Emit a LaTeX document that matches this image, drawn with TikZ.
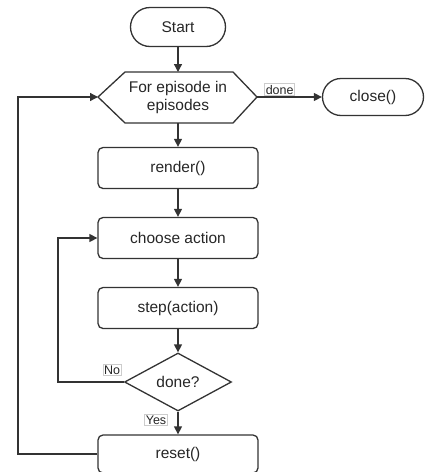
\documentclass[tikz,border=0pt]{standalone}
\usepackage{fontspec}
\setmainfont{Liberation Sans}
\usetikzlibrary{shapes.geometric,shapes.misc,arrows.meta}
\begin{document}
\begin{tikzpicture}[x=1pt,y=-1pt,
  every node/.style={font=\fontsize{15.5}{18}\selectfont, text=black!85},
  line/.style={draw=black!80, line width=1.3pt},
  arr/.style={line, -{Triangle[length=8pt,width=8pt]}},
  pill/.style={line, rounded rectangle, minimum width=95pt, minimum height=39pt, inner sep=0pt},
  box/.style={line, rectangle, rounded corners=5pt, minimum width=160pt, minimum height=41pt, inner sep=0pt},
  hexa/.style={line, chamfered rectangle, chamfered rectangle xsep=27pt, chamfered rectangle ysep=26pt, minimum width=108pt, minimum height=52pt, inner sep=0pt, align=center},
  dia/.style={line, diamond, aspect=1.85, minimum width=107pt, minimum height=58pt, inner sep=0pt},
  lbl/.style={draw=black!20, fill=white, font=\fontsize{12.5}{14}\selectfont, inner sep=1.2pt}
]
\useasboundingbox (0,0) rectangle (427,472);
\node[pill] (start) at (178,27) {Start};
\node[line, draw=none, align=center, font=\fontsize{15.5}{18}\selectfont] (hext) at (178,97) {For episode in\\episodes};
\draw[line] (98,97) -- (125,72) -- (233,72) -- (257,97) -- (233,123) -- (125,123) -- cycle;
\coordinate (hl) at (98,97);
\coordinate (hr) at (257,97);
\coordinate (hb) at (178,123);
\coordinate (ht) at (178,72);
\node[pill, minimum width=101pt, minimum height=37pt] (close) at (373,97) {close()};
\node[box] (render) at (178,168) {render()};
\node[box] (choose) at (178,238) {choose action};
\node[box] (step) at (178,308) {step(action)};
\node[dia] (done) at (178,382) {done?};
\node[box, minimum height=38pt] (reset) at (178,454) {reset()};

\draw[arr] (start) -- (ht);
\draw[arr] (hr) -- node[lbl, above=1pt, pos=0.35] (ldone) {done} (close);
\draw[arr] (hb) -- (render);
\draw[arr] (render) -- (choose);
\draw[arr] (choose) -- (step);
\draw[arr] (step) -- (done.north);
\draw[arr] (done.south) -- (reset);
\coordinate (nol) at (58,382);
\coordinate (nou) at (58,238);
\draw[arr] (done.west) -- (nol) -- (nou) -- (choose.west);
\coordinate (rl) at (18,454);
\coordinate (ru) at (18,97);
\draw[arr] (reset.west) -- (rl) -- (ru) -- (hl);
\node[lbl] (lno) at (112,370) {No};
\node[lbl] (lyes) at (156,420) {Yes};
\end{tikzpicture}
\end{document}
